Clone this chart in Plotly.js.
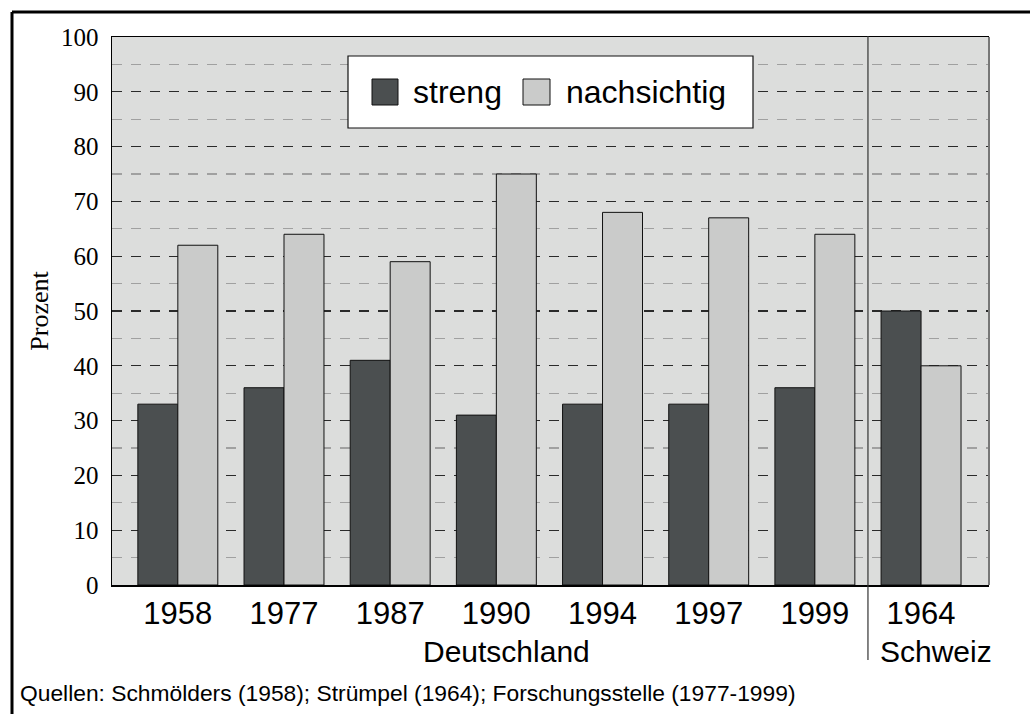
<!DOCTYPE html>
<html>
<head>
<meta charset="utf-8">
<script src="https://cdn.plot.ly/plotly-3.0.1.min.js"></script>
<style>html,body{margin:0;padding:0;background:#fff;}#chart{width:1030px;height:714px;}</style>
</head>
<body>
<div id="chart"></div>
<script>
// Data
const categories = ['1958', '1977', '1987', '1990', '1994', '1997', '1999', '1964'];
const streng = [33, 36, 41, 31, 33, 33, 36, 50];
const nachsichtig = [62, 64, 59, 75, 68, 67, 64, 40];
const seriesNames = ['streng', 'nachsichtig'];
const groupLabels = ['Deutschland', 'Schweiz'];
const yTickStep = 10;
const yMinorStep = 5;
const caption = 'Quellen: Schmölders (1958); Strümpel (1964); Forschungsstelle (1977-1999)';

const darkColor = '#4b4f50';
const lightColor = '#cacbca';

// plot area in pixels: left 112, right 989, top 37, bottom 585
const L = 112, R = 989, T = 37, B = 585;
const W = R - L, H = B - T;
const px = x => (x - L) / W;
const py = y => (B - y) / H;

const traces = [
  {type: 'bar', name: seriesNames[0], x: categories, y: streng,
   marker: {color: darkColor, line: {color: '#111', width: 1}}, hoverinfo: 'x+y+name'},
  {type: 'bar', name: seriesNames[1], x: categories, y: nachsichtig,
   marker: {color: lightColor, line: {color: '#111', width: 1}}, hoverinfo: 'x+y+name'}
];

const serif = 'Liberation Serif, Times New Roman, serif';
const sans = 'Liberation Sans, Arial, sans-serif';

const layout = {
  width: 1030, height: 714,
  margin: {l: L, r: 1030 - R, t: T, b: 714 - B},
  paper_bgcolor: '#ffffff',
  plot_bgcolor: '#dcdddc',
  showlegend: false,
  barmode: 'group',
  bargap: 0.247,
  bargroupgap: 0,
  xaxis: {
    type: 'category',
    range: [-0.62, 7.64],
    showgrid: false,
    ticks: '',
    tickfont: {family: sans, size: 31, color: '#000'},
    ticklabelstandoff: 0,
    showline: true, linecolor: '#000', linewidth: 1.5, mirror: true,
    fixedrange: true
  },
  yaxis: {
    range: [0, 100],
    tick0: 0, dtick: yTickStep,
    ticks: '',
    tickfont: {family: serif, size: 25, color: '#000'},
    ticklabelstandoff: 7,
    showgrid: true, gridcolor: '#2a2a2a', gridwidth: 1.2, griddash: '10px,9px',
    minor: {tick0: 0, dtick: yMinorStep, showgrid: true, gridcolor: '#a0a0a0', gridwidth: 1.2, griddash: '10px,9px'},
    zeroline: false,
    showline: true, linecolor: '#000', linewidth: 1.5,
    title: {text: 'Prozent', font: {family: serif, size: 26, color: '#000'}, standoff: 5},
    fixedrange: true
  },
  shapes: [
    // right plot border (gray)
    {type: 'line', xref: 'paper', yref: 'paper', x0: 1, x1: 1, y0: 0, y1: 1, line: {color: '#777', width: 2}},
    // separator between Deutschland and Schweiz
    {type: 'line', xref: 'x', yref: 'paper', x0: 6.5, x1: 6.5, y0: py(660), y1: py(36), line: {color: '#333', width: 1.2}},
    // outer frame (top and left)
    {type: 'line', xref: 'paper', yref: 'paper', x0: px(12), x1: px(1032), y0: py(12), y1: py(12), line: {color: '#000', width: 3}},
    {type: 'line', xref: 'paper', yref: 'paper', x0: px(12), x1: px(12), y0: py(12), y1: py(716), line: {color: '#000', width: 3}},
    // legend box
    {type: 'rect', xref: 'paper', yref: 'paper', x0: px(348), x1: px(753), y0: py(128), y1: py(56),
     fillcolor: '#ffffff', line: {color: '#111', width: 1.2}, layer: 'above'},
    {type: 'rect', xref: 'paper', yref: 'paper', x0: px(372), x1: px(398), y0: py(105), y1: py(79),
     fillcolor: darkColor, line: {color: '#111', width: 1}, layer: 'above'},
    {type: 'rect', xref: 'paper', yref: 'paper', x0: px(523), x1: px(550), y0: py(105), y1: py(79),
     fillcolor: lightColor, line: {color: '#111', width: 1}, layer: 'above'}
  ],
  annotations: [
    {xref: 'paper', yref: 'paper', x: px(411), y: py(92), xanchor: 'left', yanchor: 'middle',
     text: seriesNames[0], showarrow: false, font: {family: sans, size: 32, color: '#000'}},
    {xref: 'paper', yref: 'paper', x: px(564), y: py(92), xanchor: 'left', yanchor: 'middle',
     text: seriesNames[1], showarrow: false, font: {family: sans, size: 32, color: '#000'}},
    {xref: 'paper', yref: 'paper', x: px(506), y: py(651), xanchor: 'center', yanchor: 'middle',
     text: groupLabels[0], showarrow: false, font: {family: sans, size: 30, color: '#000'}},
    {xref: 'paper', yref: 'paper', x: px(936), y: py(651), xanchor: 'center', yanchor: 'middle',
     text: groupLabels[1], showarrow: false, font: {family: sans, size: 30, color: '#000'}},
    {xref: 'paper', yref: 'paper', x: px(18), y: py(693), xanchor: 'left', yanchor: 'middle',
     text: caption, showarrow: false, font: {family: sans, size: 22.8, color: '#000'}}
  ]
};

Plotly.newPlot('chart', traces, layout, {displayModeBar: false, staticPlot: true});
</script>
</body>
</html>
